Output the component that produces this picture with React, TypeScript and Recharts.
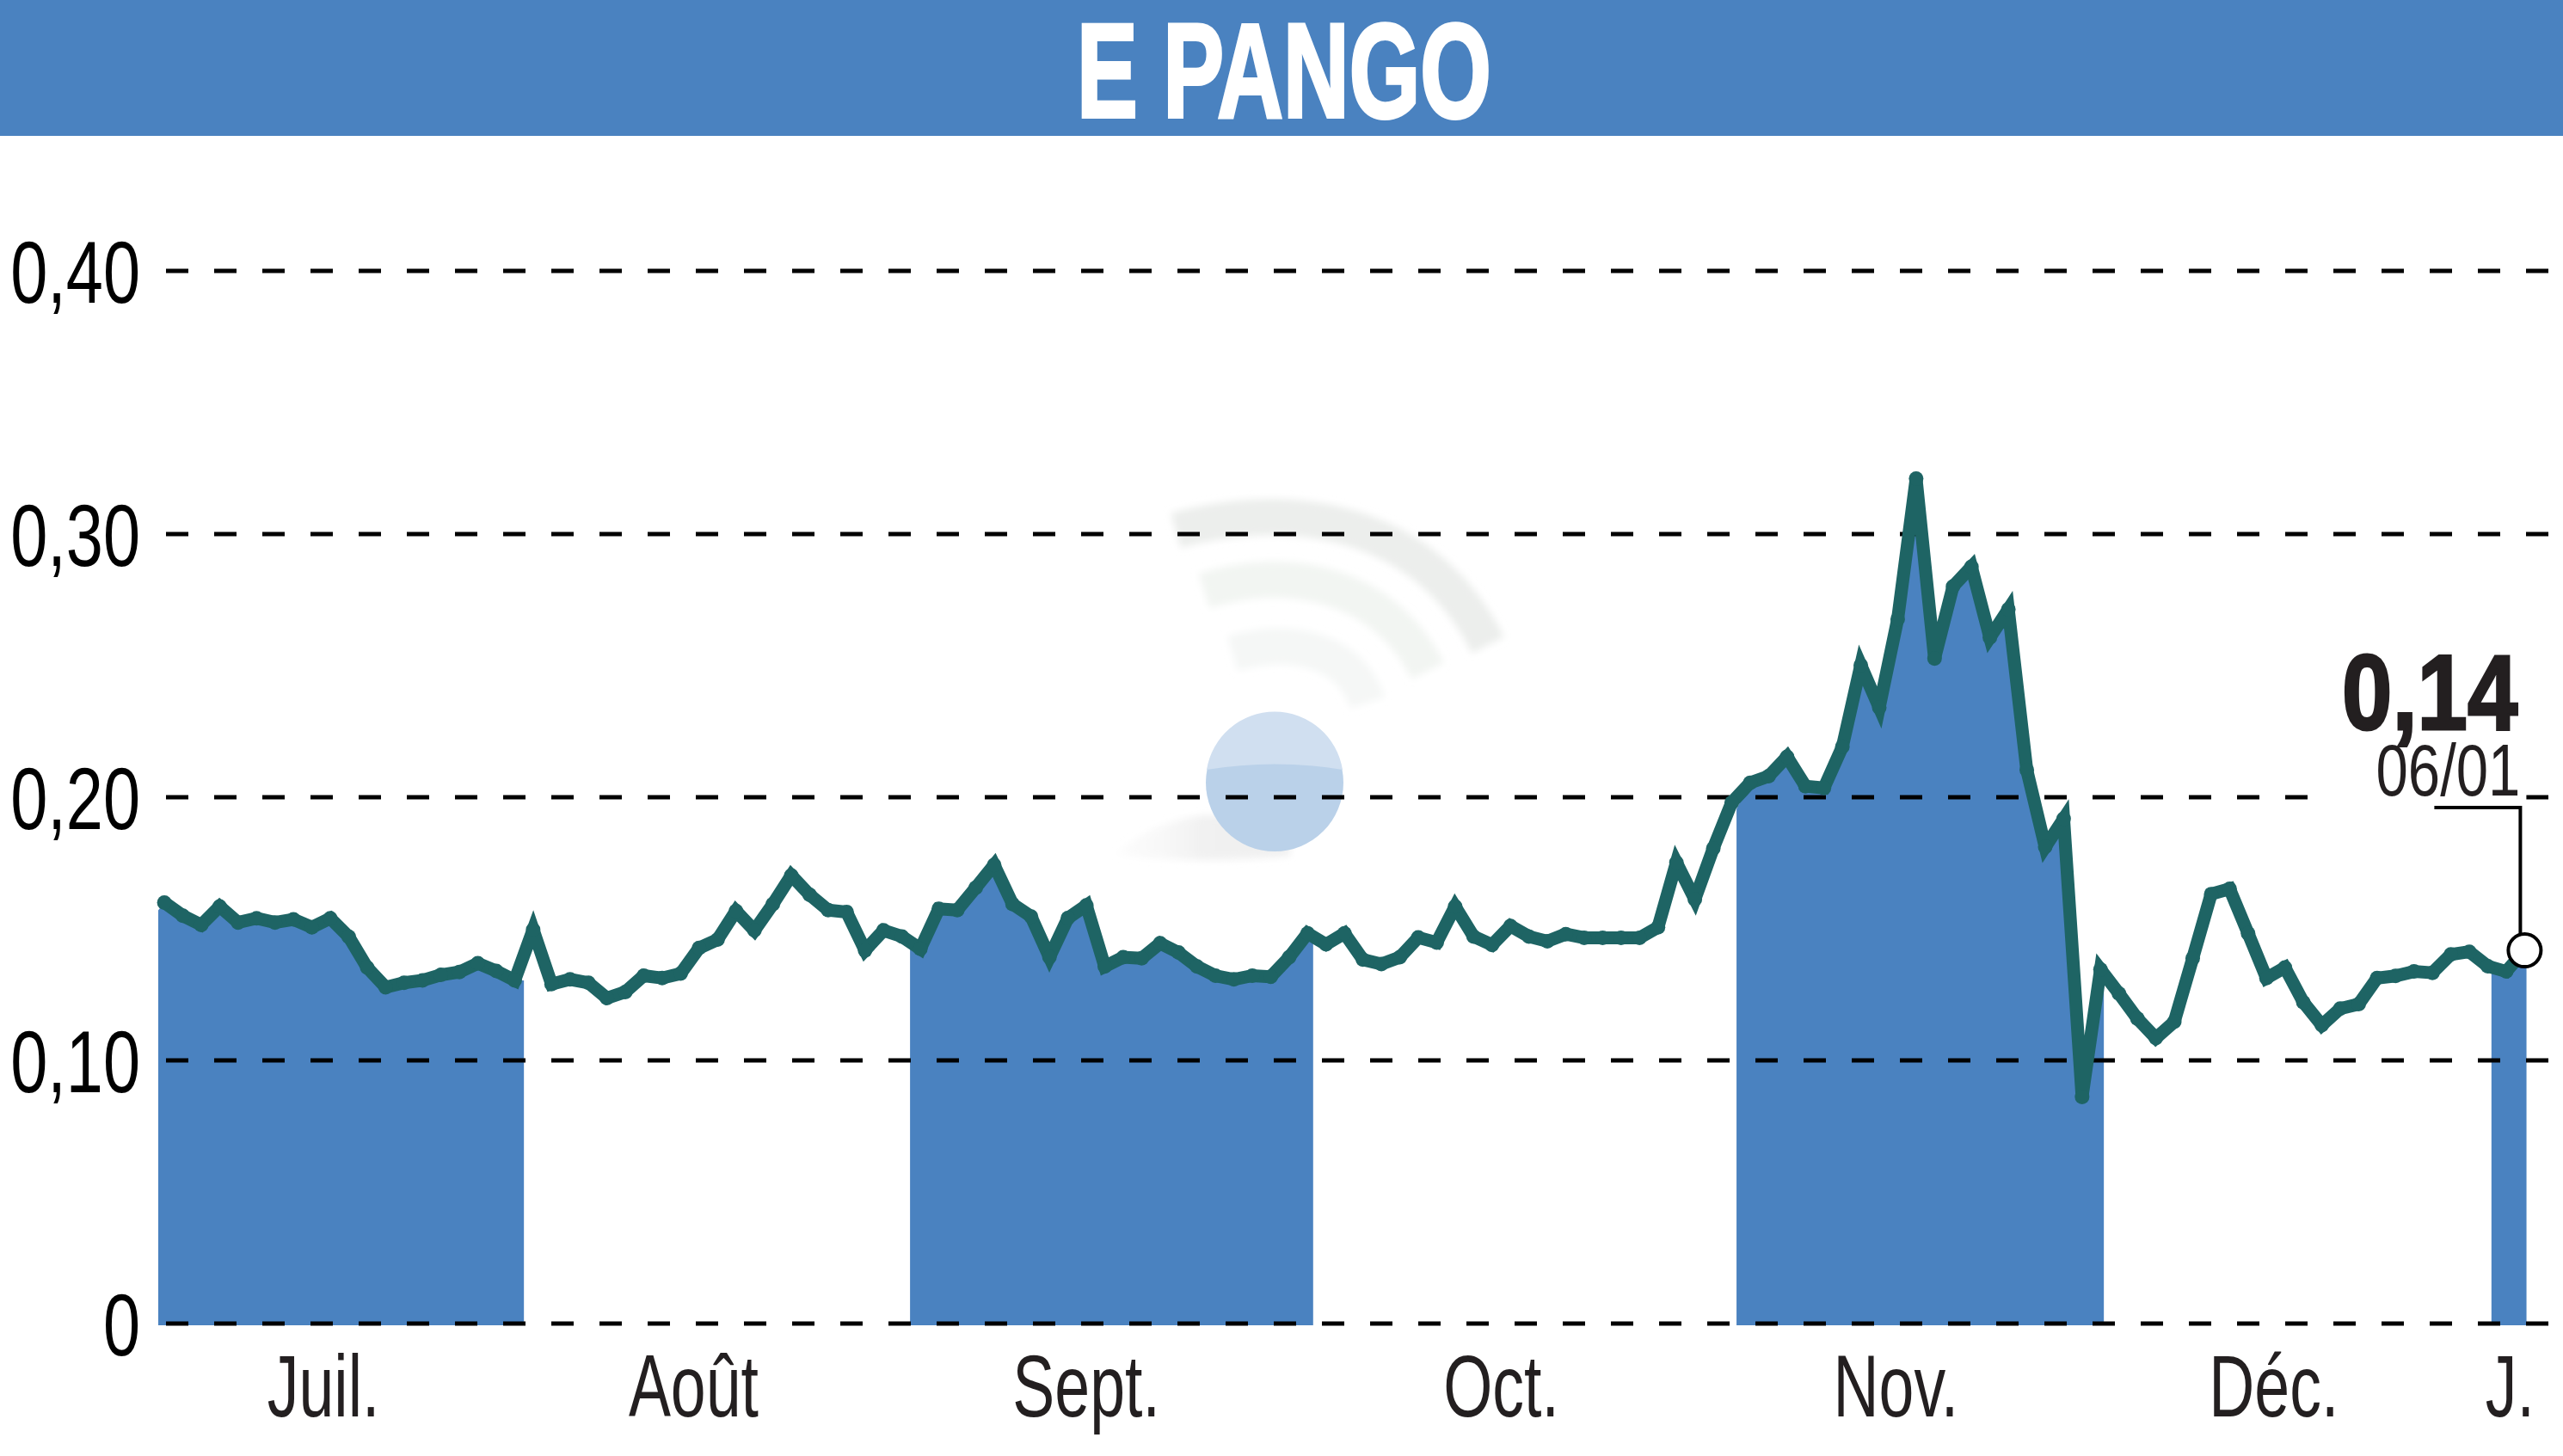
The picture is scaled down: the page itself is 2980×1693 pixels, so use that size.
import {
  ComposedChart, Area, Line, XAxis, YAxis, ReferenceLine, ReferenceDot,
} from "recharts";

const WIDTH = 2980;
const HEIGHT = 1693;
const BLUE = "#4a82c0";
const LINE_COLOR = "#1e6464";
const TEXT_COLOR = "#231f20";
const FONT = "'Liberation Sans', sans-serif";

const title = "E PANGO";
const lastValue = "0,14";
const lastDate = "06/01";

const prices = [
  0.16, 0.155, 0.1515, 0.1585, 0.1524, 0.154, 0.1524, 0.1536, 0.1506, 0.154,
  0.147, 0.1353, 0.1278, 0.1295, 0.1304, 0.1325, 0.1336, 0.1369, 0.134, 0.1304,
  0.1497, 0.129, 0.1308, 0.1295, 0.1237, 0.126, 0.1322, 0.1313, 0.133, 0.1427,
  0.1459, 0.1568, 0.1494, 0.1594, 0.1703, 0.1629, 0.1571, 0.1564, 0.1418, 0.1494,
  0.1471, 0.1424, 0.1576, 0.1571, 0.1656, 0.1743, 0.1594, 0.1547, 0.1392, 0.1541,
  0.1589, 0.1357, 0.1392, 0.1388, 0.1445, 0.141, 0.1357, 0.1322, 0.1308, 0.1322,
  0.1318, 0.1392, 0.1483, 0.1441, 0.1483, 0.1383, 0.1366, 0.1392, 0.1467, 0.1448,
  0.1585, 0.1471, 0.1439, 0.1511, 0.1471, 0.1453, 0.148, 0.1466, 0.1466, 0.1466,
  0.1466, 0.1506, 0.1752, 0.1612, 0.1806, 0.198, 0.2055, 0.208, 0.2154, 0.2042,
  0.2035, 0.2192, 0.2502, 0.2341, 0.2677, 0.3211, 0.2527, 0.2801, 0.2876, 0.2607,
  0.2714, 0.2104, 0.1811, 0.1918, 0.0861, 0.1346, 0.1254, 0.1159, 0.1085, 0.1147,
  0.1388, 0.1632, 0.1652, 0.1483, 0.1313, 0.1353, 0.1221, 0.1134, 0.1197, 0.1214,
  0.1313, 0.1321, 0.1338, 0.1333, 0.1403, 0.1413, 0.1358, 0.1338, 0.1418,
];

// shaded months: where each band starts and stops (in sessions) and how high its edge is
const bandStarts = [-0.33, 40.44, 85.26, 126.2];
const bandEnds = [19.5, 62.3, 105.18, 128.1];
const bandStartValues = [0.157, 0.1436, 0.1955, 0.1346];
const bandEndValues = [0.1304, 0.1445, 0.1308, 0.137];

const months = ["Juil.", "Août", "Sept.", "Oct.", "Nov.", "Déc.", "J."];
const monthTicks = [8.63, 28.7, 50, 72.5, 93.9, 114.4, 127.2];
const yTicks = [0, 0.1, 0.2, 0.3, 0.4];

type Row = { x: number; price?: number; [band: string]: number | undefined };

const rows: Row[] = prices.map((price, x) => {
  const row: Row = { x, price };
  bandStarts.forEach((start, b) => {
    if (x > start && x < bandEnds[b]) row[`band${b}`] = price;
  });
  return row;
});
bandStarts.forEach((start, b) => {
  rows.push({ x: start, [`band${b}`]: bandStartValues[b] });
  rows.push({ x: bandEnds[b], [`band${b}`]: bandEndValues[b] });
});
rows.sort((a, c) => a.x - c.x);

const formatY = (v: number) => (v === 0 ? "0" : v.toFixed(2).replace(".", ","));

// no condensed font is installed, so the labels are squeezed horizontally
function YTick({ x, y, payload }: any) {
  return (
    <text
      transform={`translate(${x},${y + 37}) scale(0.76,1)`}
      textAnchor="end"
      fontFamily={FONT}
      fontSize={102}
      fill="#000"
    >
      {formatY(payload.value)}
    </text>
  );
}

function XTick({ x, y, payload }: any) {
  return (
    <text
      transform={`translate(${x},${y + 106}) scale(0.72,1)`}
      textAnchor="middle"
      fontFamily={FONT}
      fontSize={102}
      fill={TEXT_COLOR}
    >
      {months[monthTicks.indexOf(payload.value)]}
    </text>
  );
}

function LastPoint({ cx, cy }: { cx?: number; cy?: number }) {
  if (cx == null || cy == null) return null;
  return (
    <g fontFamily={FONT}>
      <rect x={cx - 238} y={cy - 185} width={240} height={12} fill="#fff" />
      <text
        transform={`translate(${cx - 8},${cy - 257}) scale(0.84,1)`}
        textAnchor="end"
        fontSize={125}
        fontWeight={700}
        fill={TEXT_COLOR}
        stroke={TEXT_COLOR}
        strokeWidth={3}
      >
        {lastValue}
      </text>
      <text
        transform={`translate(${cx - 5},${cy - 180}) scale(0.78,1)`}
        textAnchor="end"
        fontSize={86}
        fill={TEXT_COLOR}
      >
        {lastDate}
      </text>
      <path d={`M${cx - 105} ${cy - 166}H${cx - 5}V${cy - 18}`} fill="none" stroke="#000" strokeWidth={4} />
      <circle cx={cx} cy={cy} r={19} fill="#fff" stroke="#000" strokeWidth={4} />
    </g>
  );
}

function Watermark() {
  return (
    <svg width={WIDTH} height={HEIGHT} style={{ position: "absolute", left: 0, top: 0 }}>
      <defs>
        <linearGradient id="shadow" x1="0" x2="1" y1="0" y2="0">
          <stop offset="0" stopColor="#f6f6f6" stopOpacity="0.2" />
          <stop offset="0.5" stopColor="#f1f1f1" />
          <stop offset="1" stopColor="#f0f0f0" />
        </linearGradient>
        <filter id="soft">
          <feGaussianBlur stdDeviation="4" />
        </filter>
      </defs>
      <rect x={0} y={0} width={WIDTH} height={HEIGHT} fill="#fff" />
      <g filter="url(#soft)">
        <path d="M1367 617C1480 585 1650 590 1730 750" fill="none" stroke="#eceeec" strokeWidth={42} />
        <path d="M1400 687C1500 655 1610 680 1660 780" fill="none" stroke="#f2f5f2" strokeWidth={42} />
        <path d="M1433 760C1500 740 1570 755 1590 817" fill="none" stroke="#f5f7f6" strokeWidth={42} />
        <path d="M1295 994Q1340 955 1400 948H1500V995Q1400 1005 1295 994Z" fill="url(#shadow)" />
      </g>
      <circle cx={1482} cy={910} r={80} fill="#bad1e9" />
      <path d="M1403 895A80 80 0 0 1 1561 895Q1482 882 1403 895Z" fill="#d0dff0" />
    </svg>
  );
}

export default function App() {
  return (
    <div style={{ position: "absolute", left: 0, top: 0, width: WIDTH, height: HEIGHT, overflow: "hidden" }}>
      <Watermark />
      <div style={{ position: "absolute", left: 0, top: 0 }}>
        <ComposedChart
          width={WIDTH}
          height={HEIGHT}
          data={rows}
          margin={{ top: 200, right: 0, bottom: 0, left: 0 }}
        >
          <XAxis
            dataKey="x"
            type="number"
            domain={[-0.33, 130.08]}
            ticks={monthTicks}
            interval={0}
            height={152}
            axisLine={false}
            tickLine={false}
            tickSize={0}
            tickMargin={0}
            tick={XTick}
          />
          <YAxis
            type="number"
            domain={[-0.00065, 0.4376]}
            ticks={yTicks}
            width={184}
            axisLine={false}
            tickLine={false}
            tickSize={0}
            tickMargin={21}
            tick={YTick}
          />
          {bandStarts.map((_, b) => (
            <Area
              key={b}
              dataKey={`band${b}`}
              type="linear"
              baseValue={-0.00065}
              fill={BLUE}
              fillOpacity={1}
              stroke="none"
              dot={false}
              activeDot={false}
              isAnimationActive={false}
            />
          ))}
          {yTicks.map((v) => (
            <ReferenceLine
              key={v}
              y={v}
              stroke="#000"
              strokeWidth={5}
              strokeDasharray="26 30"
              strokeDashoffset={47}
            />
          ))}
          <Line
            dataKey="price"
            type="linear"
            stroke={LINE_COLOR}
            strokeWidth={15}
            strokeLinejoin="miter"
            connectNulls
            dot={{ r: 8.5, fill: LINE_COLOR, stroke: "none" }}
            activeDot={false}
            isAnimationActive={false}
          />
          <ReferenceDot x={128} y={prices[128]} shape={LastPoint} />
        </ComposedChart>
      </div>
      <svg width={WIDTH} height={158} style={{ position: "absolute", left: 0, top: 0 }}>
        <rect width={WIDTH} height={158} fill={BLUE} />
        <text
          x={1252}
          y={136}
          fontFamily={FONT}
          fontWeight={700}
          fontSize={156}
          fill="#fff"
          stroke="#fff"
          strokeWidth={4}
          textLength={482}
          lengthAdjust="spacingAndGlyphs"
        >
          {title}
        </text>
      </svg>
    </div>
  );
}
